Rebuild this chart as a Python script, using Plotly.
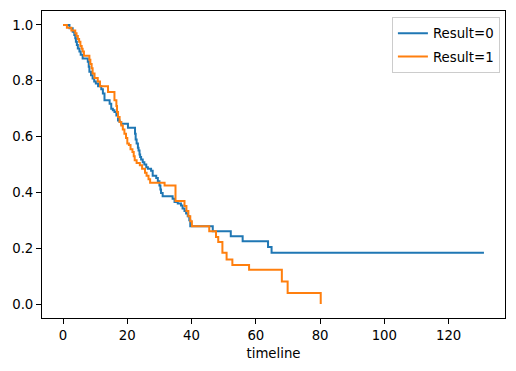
import plotly.graph_objects as go

# Kaplan-Meier step curves (time of event, survival after event)
t0 = [0, 2.0, 3.0, 3.5, 3.8, 4.0, 4.3, 4.6, 5.1, 5.5, 6.1, 7.7, 8.0, 8.2, 8.7, 9.2, 9.7,
      10.2, 10.9, 11.9, 12.4, 12.9, 14.5, 15.0, 15.5, 16.0, 16.6, 17.1, 17.6, 18.1, 20.2,
      22.4, 22.6, 22.9, 23.3, 23.5, 23.8, 24.0, 24.3, 24.8, 25.3, 25.9, 26.4, 27.4, 27.9,
      29.0, 29.5, 30.0, 30.3, 30.5, 31.0, 34.1, 34.7, 35.7, 36.7, 37.2, 37.8, 38.3, 38.8,
      39.3, 39.6, 46.6, 52.2, 55.9, 63.8, 64.9, 131.0]
s0 = [1.0, 0.988, 0.976, 0.964, 0.952, 0.94, 0.928, 0.916, 0.905, 0.893, 0.88, 0.868, 0.85,
      0.832, 0.82, 0.808, 0.797, 0.79, 0.78, 0.77, 0.754, 0.73, 0.718, 0.70, 0.694, 0.688,
      0.676, 0.658, 0.652, 0.646, 0.632, 0.61, 0.59, 0.575, 0.56, 0.55, 0.536, 0.527, 0.518,
      0.508, 0.5, 0.49, 0.485, 0.478, 0.46, 0.452, 0.44, 0.425, 0.41, 0.398, 0.386, 0.377,
      0.366, 0.36, 0.353, 0.342, 0.333, 0.324, 0.315, 0.3, 0.279, 0.261, 0.243, 0.225,
      0.204, 0.184, 0.184]

t1 = [0, 1.2, 2.6, 3.8, 4.2, 4.6, 5.0, 5.4, 5.8, 6.1, 6.5, 8.2, 8.5, 8.9, 9.2, 9.8, 10.8,
      11.5, 14.0, 16.0, 16.6, 16.8, 17.1, 17.6, 18.1, 18.6, 19.1, 19.6, 20.0, 20.5, 21.0,
      21.6, 22.0, 22.3, 22.9, 23.9, 24.6, 25.5, 26.0, 26.6, 27.1, 31.6, 35.0, 37.8, 38.4,
      39.0, 39.6, 40.1, 45.5, 47.6, 48.3, 49.6, 50.9, 52.7, 57.9, 68.1, 69.9, 80.2]
s1 = [1.0, 0.99, 0.98, 0.97, 0.96, 0.95, 0.94, 0.925, 0.915, 0.905, 0.89, 0.875, 0.86,
      0.845, 0.826, 0.81, 0.797, 0.78, 0.76, 0.73, 0.71, 0.688, 0.67, 0.652, 0.64, 0.625,
      0.61, 0.595, 0.575, 0.57, 0.555, 0.545, 0.53, 0.515, 0.505, 0.497, 0.485, 0.47, 0.46,
      0.447, 0.435, 0.425, 0.369, 0.351, 0.333, 0.315, 0.297, 0.279, 0.261, 0.24, 0.222,
      0.184, 0.16, 0.14, 0.123, 0.081, 0.04, 0.0]

names = ["Result=0", "Result=1"]
colors = ["#1f77b4", "#ff7f0e"]
x_ticks = [0, 20, 40, 60, 80, 100, 120]
y_ticks = [0.0, 0.2, 0.4, 0.6, 0.8, 1.0]

FONT = "DejaVu Sans"
fig = go.Figure()
for i, (t, s, n, c) in enumerate([(t0, s0, names[0], colors[0]), (t1, s1, names[1], colors[1])]):
    fig.add_trace(go.Scatter(x=t, y=s, mode="lines", name=n, legendgroup=str(i),
                             line=dict(color=c, width=2, shape="hv")))

xmax = max(max(t0), max(t1))
pad = 0.05 * xmax
axis_common = dict(showline=True, mirror=True, linecolor="black", linewidth=1,
                   ticks="outside", ticklen=5, tickcolor="black", tickwidth=1,
                   showgrid=False, zeroline=False, automargin=False,
                   tickfont=dict(family=FONT, size=13.3, color="black"))
fig.update_xaxes(range=[-pad, xmax + pad], tickvals=x_ticks,
                 title=dict(text="timeline", font=dict(family=FONT, size=13.3, color="black"),
                            standoff=6), **axis_common)
fig.update_yaxes(range=[-0.05, 1.05], tickvals=y_ticks,
                 ticktext=[f"{v:.1f}" for v in y_ticks], **axis_common)

# page body has an 8px default margin, so the figure is sized to fit inside it
fig.update_layout(
    width=508, height=363,
    margin=dict(l=34, r=11, t=3, b=53),
    plot_bgcolor="white", paper_bgcolor="white",
    font=dict(family=FONT, size=13.3, color="black"),
    legend=dict(x=0.989, y=0.980, xanchor="right", yanchor="top",
                bordercolor="#cccccc", borderwidth=1, bgcolor="rgba(255,255,255,0.8)",
                font=dict(family=FONT, size=13.3, color="black"),
                tracegroupgap=3, itemwidth=30),
    showlegend=True,
)
fig.write_html("out.html")
